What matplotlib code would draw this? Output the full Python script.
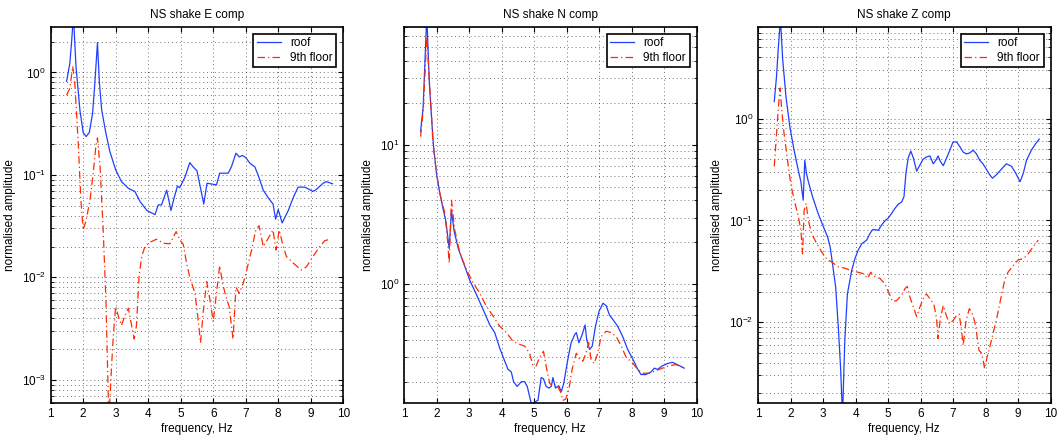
import matplotlib
matplotlib.use('Agg')
import matplotlib.pyplot as plt
import numpy as np

plt.rcParams['font.family'] = ['Liberation Sans', 'DejaVu Sans']
plt.rcParams['font.size'] = 8
plt.rcParams['mathtext.fontset'] = 'custom'
plt.rcParams['mathtext.rm'] = 'Liberation Sans'

# ---- E component ----
e_f_roof = [1.49, 1.59, 1.65, 1.70, 1.78, 1.90, 2.00, 2.09, 2.19, 2.29, 2.36, 2.44, 2.50, 2.57,
            2.70, 2.82, 3.00, 3.18, 3.39, 3.59, 3.75, 3.96, 4.21, 4.31, 4.41, 4.57, 4.70, 4.80,
            4.90, 4.97, 5.13, 5.28, 5.38, 5.50, 5.71, 5.81, 6.10, 6.20, 6.46, 6.56, 6.70, 6.80,
            6.90, 7.00, 7.13, 7.28, 7.38, 7.54, 7.69, 7.84, 7.92, 8.00, 8.12, 8.31, 8.46, 8.61,
            8.82, 9.07, 9.17, 9.38, 9.48, 9.67]
e_roof = [0.82, 1.23, 2.1, 3.6, 1.14, 0.43, 0.26, 0.237, 0.26, 0.40, 0.79, 1.96, 0.79, 0.43,
          0.255, 0.17, 0.112, 0.086, 0.074, 0.069, 0.055, 0.045, 0.041, 0.051, 0.051, 0.071, 0.045, 0.06,
          0.078, 0.075, 0.095, 0.132, 0.12, 0.11, 0.052, 0.083, 0.08, 0.104, 0.104, 0.12, 0.163, 0.15,
          0.155, 0.148, 0.13, 0.12, 0.10, 0.071, 0.06, 0.052, 0.037, 0.046, 0.034, 0.045, 0.06, 0.076,
          0.076, 0.069, 0.072, 0.083, 0.086, 0.082]
e_f_floor = [1.49, 1.59, 1.68, 1.75, 1.85, 1.93, 2.00, 2.09, 2.21, 2.31, 2.39, 2.44, 2.52, 2.62,
             2.70, 2.75, 2.79, 2.87, 2.93, 3.00, 3.08, 3.18, 3.28, 3.39, 3.49, 3.57, 3.64, 3.72,
             3.80, 3.90, 4.05, 4.26, 4.47, 4.67, 4.78, 4.86, 4.98, 5.08, 5.18, 5.28, 5.44, 5.54,
             5.61, 5.69, 5.80, 5.90, 6.00, 6.10, 6.20, 6.29, 6.39, 6.49, 6.61, 6.70, 6.80, 6.92,
             7.02, 7.18, 7.31, 7.41, 7.54, 7.69, 7.84, 7.93, 8.03, 8.13, 8.25, 8.46, 8.71, 8.87,
             9.07, 9.28, 9.43, 9.59]
e_floor = [0.60, 0.70, 1.15, 0.73, 0.2, 0.057, 0.029, 0.036, 0.057, 0.104, 0.19, 0.23, 0.12, 0.027,
           0.006, 0.00135, 0.0004, 0.0013, 0.0028, 0.0052, 0.0042, 0.0034, 0.0042, 0.005, 0.0034, 0.0025, 0.0034, 0.0102,
           0.016, 0.02, 0.022, 0.0236, 0.0215, 0.0213, 0.025, 0.028, 0.023, 0.021, 0.0138, 0.010, 0.0070, 0.0038,
           0.0023, 0.0045, 0.0091, 0.006, 0.0037, 0.0070, 0.013, 0.0087, 0.0065, 0.0052, 0.0025, 0.008, 0.007, 0.0087,
           0.0114, 0.0185, 0.029, 0.032, 0.02, 0.024, 0.029, 0.0185, 0.029, 0.0215, 0.016, 0.0138, 0.0118, 0.0127,
           0.016, 0.02, 0.0228, 0.0236]

# ---- N component ----
n_f_roof = [1.51, 1.59, 1.70, 1.78, 1.90, 2.00, 2.10, 2.21, 2.29, 2.39, 2.46, 2.54, 2.67, 2.87,
            3.02, 3.23, 3.43, 3.64, 3.79, 3.94, 4.10, 4.20, 4.30, 4.37, 4.48, 4.61, 4.71, 4.79,
            4.86, 4.92, 5.02, 5.12, 5.22, 5.29, 5.37, 5.46, 5.53, 5.58, 5.66, 5.76, 5.84, 5.91,
            6.04, 6.14, 6.25, 6.30, 6.38, 6.48, 6.57, 6.62, 6.71, 6.79, 6.89, 7.00, 7.12, 7.22,
            7.32, 7.42, 7.57, 7.73, 7.88, 8.04, 8.19, 8.29, 8.44, 8.60, 8.70, 8.80, 8.95, 9.11,
            9.26, 9.41, 9.62]
n_roof = [12.4, 18.7, 85.0, 27.5, 10.2, 6.2, 4.5, 3.4, 2.8, 1.8, 3.4, 2.4, 1.8, 1.34,
          1.07, 0.84, 0.66, 0.51, 0.45, 0.35, 0.28, 0.245, 0.235, 0.2, 0.185, 0.2, 0.2, 0.185,
          0.158, 0.138, 0.143, 0.147, 0.214, 0.21, 0.185, 0.18, 0.185, 0.214, 0.18, 0.187, 0.17, 0.193,
          0.29, 0.38, 0.435, 0.45, 0.38, 0.435, 0.51, 0.40, 0.34, 0.36, 0.5, 0.64, 0.73, 0.70,
          0.6, 0.56, 0.5, 0.42, 0.34, 0.29, 0.245, 0.225, 0.225, 0.235, 0.25, 0.245, 0.26, 0.27,
          0.275, 0.265, 0.25]
n_f_floor = [1.51, 1.59, 1.70, 1.78, 1.90, 2.00, 2.10, 2.26, 2.33, 2.39, 2.46, 2.56, 2.72, 2.92,
             3.13, 3.33, 3.54, 3.74, 3.94, 4.15, 4.35, 4.56, 4.71, 4.86, 4.97, 5.07, 5.17, 5.29,
             5.37, 5.48, 5.58, 5.70, 5.81, 5.89, 5.97, 6.07, 6.17, 6.30, 6.40, 6.50, 6.60, 6.68,
             6.75, 6.85, 6.96, 7.06, 7.22, 7.37, 7.53, 7.68, 7.83, 8.04, 8.19, 8.34, 8.55, 8.75,
             8.95, 9.16, 9.36, 9.62]
n_floor = [11.4, 17.5, 59.0, 29.0, 9.7, 6.2, 4.5, 3.2, 2.2, 1.41, 4.0, 2.45, 1.67, 1.27,
           1.02, 0.86, 0.69, 0.59, 0.5, 0.45, 0.39, 0.37, 0.36, 0.32, 0.26, 0.26, 0.30, 0.33,
           0.26, 0.195, 0.185, 0.19, 0.17, 0.147, 0.15, 0.175, 0.245, 0.32, 0.29, 0.28, 0.32, 0.38,
           0.29, 0.27, 0.32, 0.42, 0.46, 0.45, 0.42, 0.36, 0.3, 0.27, 0.245, 0.23, 0.23, 0.24,
           0.25, 0.26, 0.265, 0.25]

# ---- Z component ----
z_f_roof = [1.50, 1.57, 1.62, 1.69, 1.76, 1.86, 1.98, 2.11, 2.24, 2.32, 2.39, 2.44, 2.49, 2.55,
            2.68, 2.85, 3.01, 3.14, 3.22, 3.30, 3.39, 3.47, 3.54, 3.60, 3.67, 3.75, 3.88, 3.98,
            4.08, 4.19, 4.34, 4.44, 4.52, 4.62, 4.70, 4.80, 4.90, 5.00, 5.11, 5.21, 5.31, 5.42,
            5.49, 5.55, 5.62, 5.70, 5.78, 5.88, 5.98, 6.08, 6.18, 6.29, 6.39, 6.47, 6.54, 6.61,
            6.70, 6.80, 6.90, 7.00, 7.11, 7.21, 7.31, 7.41, 7.51, 7.62, 7.72, 7.82, 7.92, 8.02,
            8.13, 8.21, 8.33, 8.49, 8.64, 8.80, 8.93, 9.06, 9.16, 9.26, 9.41, 9.51, 9.65]
z_roof = [1.47, 2.6, 4.7, 9.5, 3.8, 1.65, 0.83, 0.49, 0.31, 0.24, 0.158, 0.39, 0.29, 0.24,
          0.17, 0.117, 0.087, 0.069, 0.055, 0.036, 0.022, 0.009, 0.0036, 0.0012, 0.0066, 0.019, 0.032, 0.042,
          0.051, 0.059, 0.064, 0.074, 0.081, 0.081, 0.080, 0.09, 0.099, 0.105, 0.117, 0.131, 0.144, 0.152,
          0.171, 0.29, 0.41, 0.48, 0.41, 0.305, 0.35, 0.40, 0.42, 0.43, 0.36, 0.39, 0.43, 0.38,
          0.345, 0.41, 0.49, 0.59, 0.59, 0.53, 0.47, 0.45, 0.46, 0.49, 0.45, 0.39, 0.36, 0.32,
          0.28, 0.26, 0.28, 0.32, 0.36, 0.34, 0.29, 0.24, 0.29, 0.39, 0.49, 0.55, 0.63]
z_f_floor = [1.50, 1.55, 1.62, 1.68, 1.73, 1.80, 1.88, 1.96, 2.03, 2.14, 2.24, 2.32, 2.37, 2.42,
             2.48, 2.55, 2.65, 2.81, 2.96, 3.11, 3.27, 3.47, 3.67, 3.88, 4.08, 4.24, 4.37, 4.47,
             4.60, 4.75, 4.90, 5.04, 5.14, 5.26, 5.42, 5.52, 5.59, 5.67, 5.78, 5.88, 5.98, 6.08,
             6.18, 6.29, 6.41, 6.49, 6.54, 6.61, 6.70, 6.78, 6.88, 7.00, 7.11, 7.19, 7.27, 7.31,
             7.40, 7.50, 7.60, 7.68, 7.74, 7.80, 7.87, 7.92, 7.97, 8.05, 8.13, 8.23, 8.33, 8.46,
             8.59, 8.69, 8.85, 9.00, 9.16, 9.31, 9.46, 9.62]
z_floor = [0.34, 0.57, 1.22, 2.0, 1.22, 0.72, 0.46, 0.29, 0.21, 0.147, 0.109, 0.08, 0.047, 0.126,
           0.147, 0.1, 0.074, 0.059, 0.049, 0.042, 0.039, 0.035, 0.034, 0.032, 0.031, 0.030, 0.027, 0.031,
           0.028, 0.027, 0.024, 0.019, 0.016, 0.0163, 0.0184, 0.0214, 0.0225, 0.0178, 0.0141, 0.0114, 0.0141, 0.017,
           0.019, 0.017, 0.015, 0.011, 0.0069, 0.011, 0.0146, 0.012, 0.0097, 0.0104, 0.0117, 0.012, 0.0078, 0.0059,
           0.0104, 0.0136, 0.012, 0.0097, 0.0072, 0.0053, 0.005, 0.0043, 0.0035, 0.0046, 0.0057, 0.0078, 0.0104, 0.0166,
           0.026, 0.031, 0.036, 0.041, 0.042, 0.047, 0.055, 0.064]

panels = [
    ('NS shake E comp', e_f_roof, e_roof, e_f_floor, e_floor, (5.9e-4, 2.8)),
    ('NS shake N comp', n_f_roof, n_roof, n_f_floor, n_floor, (0.14, 70)),
    ('NS shake Z comp', z_f_roof, z_roof, z_f_floor, z_floor, (1.6e-3, 8.0)),
]
lefts = [0.0476, 0.3797, 0.7124]

fig = plt.figure(figsize=(10.64, 4.41), dpi=100)
for left, (title, fr, r, ff, fl, ylim) in zip(lefts, panels):
    ax = fig.add_axes([left, 0.0855, 0.275, 0.854])
    ax.semilogy(fr, r, color='#1f3fff', lw=0.9, label='roof')
    ax.semilogy(ff, fl, color='#ff2a00', lw=0.9, dashes=(6, 2.5, 1, 2.5), label='9th floor')
    ax.set_xlim(1, 10)
    ax.set_ylim(*ylim)
    ax.set_xticks(range(1, 11))
    ax.grid(True, which='major', color='k', ls=(0, (1, 3)), lw=0.7, alpha=0.55)
    ax.grid(True, which='minor', axis='y', color='k', ls=(0, (1, 3)), lw=0.7, alpha=0.55)
    ax.tick_params(which='both', direction='in', top=True, right=True, labelsize=8.5)
    for s in ax.spines.values():
        s.set_linewidth(1.2)
    ax.set_title(title, fontsize=8.5, pad=6)
    ax.set_xlabel('frequency, Hz', fontsize=8.5, labelpad=2)
    ax.set_ylabel('normalised amplitude', fontsize=8.5)
    leg = ax.legend(loc='upper right', fontsize=8.5, fancybox=False, framealpha=1,
                    edgecolor='k', borderaxespad=0.6, handlelength=2.0, handletextpad=0.8,
                    borderpad=0.3, labelspacing=0.2)
    leg.get_frame().set_linewidth(1.2)

fig.savefig('out.png', dpi=100)
